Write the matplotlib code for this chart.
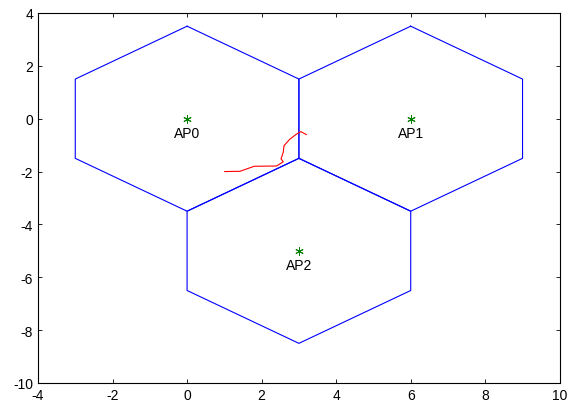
import numpy as np
import matplotlib
matplotlib.use('Agg')
from matplotlib import pyplot as plt

plt.rcParams['font.family'] = ['Liberation Sans', 'DejaVu Sans']
plt.rcParams['axes.unicode_minus'] = False

# access points
ap_names = ['AP0', 'AP1', 'AP2']
ap_x = [0, 6, 3]
ap_y = [0, 0, -5]

# hexagon offsets relative to the cell centre
hex_dx = [0, 3, 3, 0, -3, -3, 0]
hex_dy = [3.5, 1.5, -1.5, -3.5, -1.5, 1.5, 3.5]

# walk track
track_x = [1.01, 1.42, 1.80, 2.40, 2.58, 2.52, 2.58, 2.60, 2.76, 2.94, 3.05, 3.20]
track_y = [-2.00, -1.99, -1.80, -1.79, -1.63, -1.52, -1.27, -1.02, -0.77, -0.58, -0.49, -0.60]

fig = plt.figure(figsize=(5.73, 4.02), dpi=100, facecolor='white')
ax = fig.add_axes([0.0663, 0.0448, 0.9107, 0.9204])

for cx, cy in zip(ap_x, ap_y):
    ax.plot(np.array(hex_dx) + cx, np.array(hex_dy) + cy, color='blue', lw=0.8)

ax.plot(track_x, track_y, color='red', lw=0.8)

# matlab style '*' marker
ax.plot(ap_x, ap_y, marker=(6, 2, 0), color='#008000', ms=6, mew=0.7, ls='none')
for name, cx, cy in zip(ap_names, ap_x, ap_y):
    ax.text(cx, cy - 0.55, name, ha='center', va='center', fontsize=10)

ax.set_xlim(-4, 10)
ax.set_ylim(-10, 4)
ax.set_xticks(range(-4, 11, 2))
ax.set_yticks(range(-10, 5, 2))
ax.tick_params(direction='in', top=True, right=True, labelsize=10, length=3, width=0.6)
for s in ax.spines.values():
    s.set_linewidth(0.8)

plt.savefig('out.png', dpi=100)
